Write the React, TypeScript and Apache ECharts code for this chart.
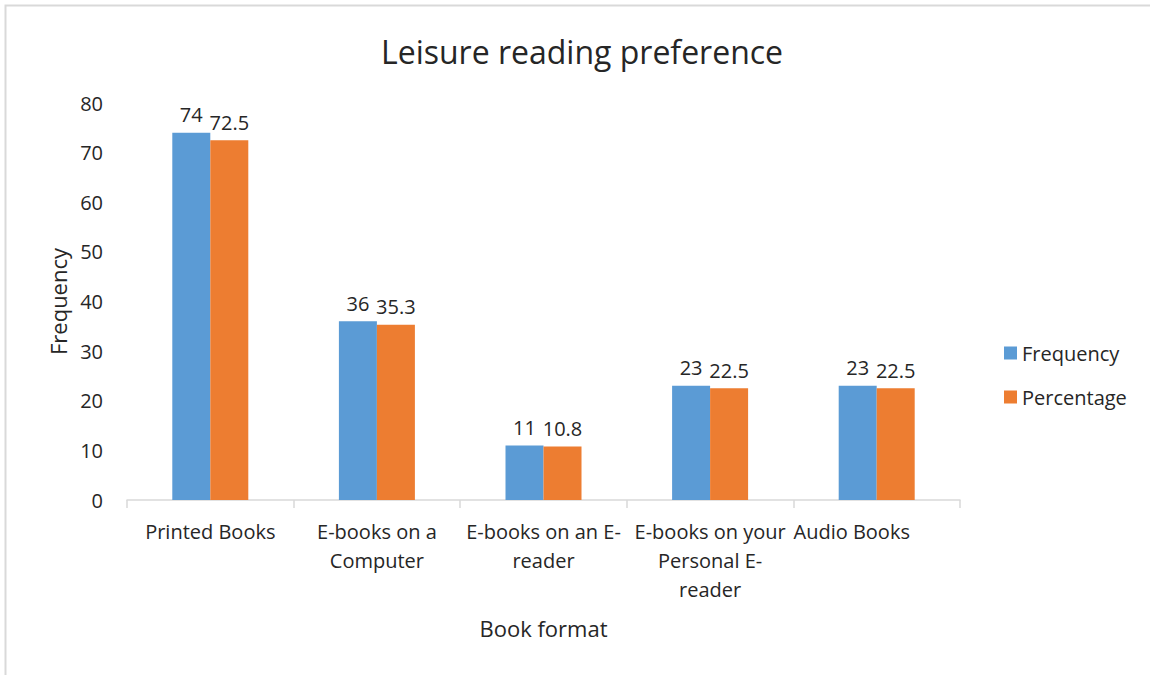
import React, { useEffect, useRef } from "react";
import * as echarts from "echarts";

const categories = [
  "Printed Books",
  "E-books on a Computer",
  "E-books on an E-reader",
  "E-books on your Personal E-reader",
  "Audio Books",
];
const categoryLines: string[][] = [
  ["Printed Books"],
  ["E-books on a", "Computer"],
  ["E-books on an E-", "reader"],
  ["E-books on your", "Personal E-", "reader"],
  ["Audio Books"],
];
const frequency = [74, 36, 11, 23, 23];
const percentage = [72.5, 35.3, 10.8, 22.5, 22.5];
const yTicks = { min: 0, max: 80, interval: 10 };

const FONT = "'Open Sans', 'Noto Sans', sans-serif";
const TEXT = "#262626";

export default function App() {
  const ref = useRef<HTMLDivElement>(null);
  useEffect(() => {
    if (!ref.current) return;
    const chart = echarts.init(ref.current, undefined, { renderer: "svg" });
    const catData = categories.map((c, i) =>
      i === categories.length - 1
        ? { value: c, textStyle: { padding: [0, 50, 0, 0] } }
        : c
    );
    chart.setOption({
      animation: false,
      backgroundColor: "#ffffff",
      textStyle: { fontFamily: FONT, color: TEXT },
      title: {
        text: "Leisure reading preference",
        left: 577,
        textAlign: "center",
        top: 30,
        textStyle: { fontFamily: FONT, fontSize: 32, fontWeight: "normal", color: TEXT },
      },
      graphic: [
        {
          type: "rect",
          shape: { x: 5.5, y: 5.5, width: 1200, height: 700 },
          style: { fill: "none", stroke: "#d9d9d9", lineWidth: 2 },
          silent: true,
        },
      ],
      legend: {
        orient: "vertical",
        left: 999,
        top: 338,
        itemWidth: 13,
        itemHeight: 13,
        itemGap: 24,
        icon: "rect",
        textStyle: { fontFamily: FONT, fontSize: 20, color: TEXT },
        data: ["Frequency", "Percentage"],
      },
      grid: { left: 127, right: 190, top: 103, bottom: 175, containLabel: false },
      xAxis: {
        type: "category",
        data: catData,
        name: "Book format",
        nameLocation: "middle",
        nameGap: 117,
        nameTextStyle: { fontFamily: FONT, fontSize: 22, color: TEXT },
        axisLine: { show: true, lineStyle: { color: "#d9d9d9", width: 1.5 } },
        axisTick: { show: true, length: 8, lineStyle: { color: "#d9d9d9", width: 1.5 } },
        axisLabel: {
          fontFamily: FONT,
          fontSize: 20,
          color: TEXT,
          margin: 17,
          lineHeight: 29,
          interval: 0,
          formatter: (_v: string, i: number) => categoryLines[i].join("\n"),
        },
      },
      yAxis: {
        type: "value",
        min: yTicks.min,
        max: yTicks.max,
        interval: yTicks.interval,
        name: "Frequency",
        nameLocation: "middle",
        nameGap: 56,
        nameRotate: 90,
        nameTextStyle: { fontFamily: FONT, fontSize: 22, color: TEXT },
        axisLine: { show: false },
        axisTick: { show: false },
        splitLine: { show: false },
        axisLabel: { fontFamily: FONT, fontSize: 20, color: TEXT, margin: 24 },
      },
      series: [
        {
          name: "Frequency",
          type: "bar",
          data: frequency,
          barWidth: 38,
          barGap: "0%",
          itemStyle: { color: "#5B9BD5" },
          label: {
            show: true,
            position: "top",
            distance: 8,
            fontFamily: FONT,
            fontSize: 20,
            color: TEXT,
          },
        },
        {
          name: "Percentage",
          type: "bar",
          data: percentage,
          barWidth: 38,
          barGap: "0%",
          itemStyle: { color: "#ED7D31" },
          label: {
            show: true,
            position: "top",
            distance: 8,
            fontFamily: FONT,
            fontSize: 20,
            color: TEXT,
          },
        },
      ],
    });
    return () => chart.dispose();
  }, []);
  return (
    <div
      ref={ref}
      style={{ position: "fixed", left: 0, top: 0, width: 1150, height: 675 }}
    />
  );
}
